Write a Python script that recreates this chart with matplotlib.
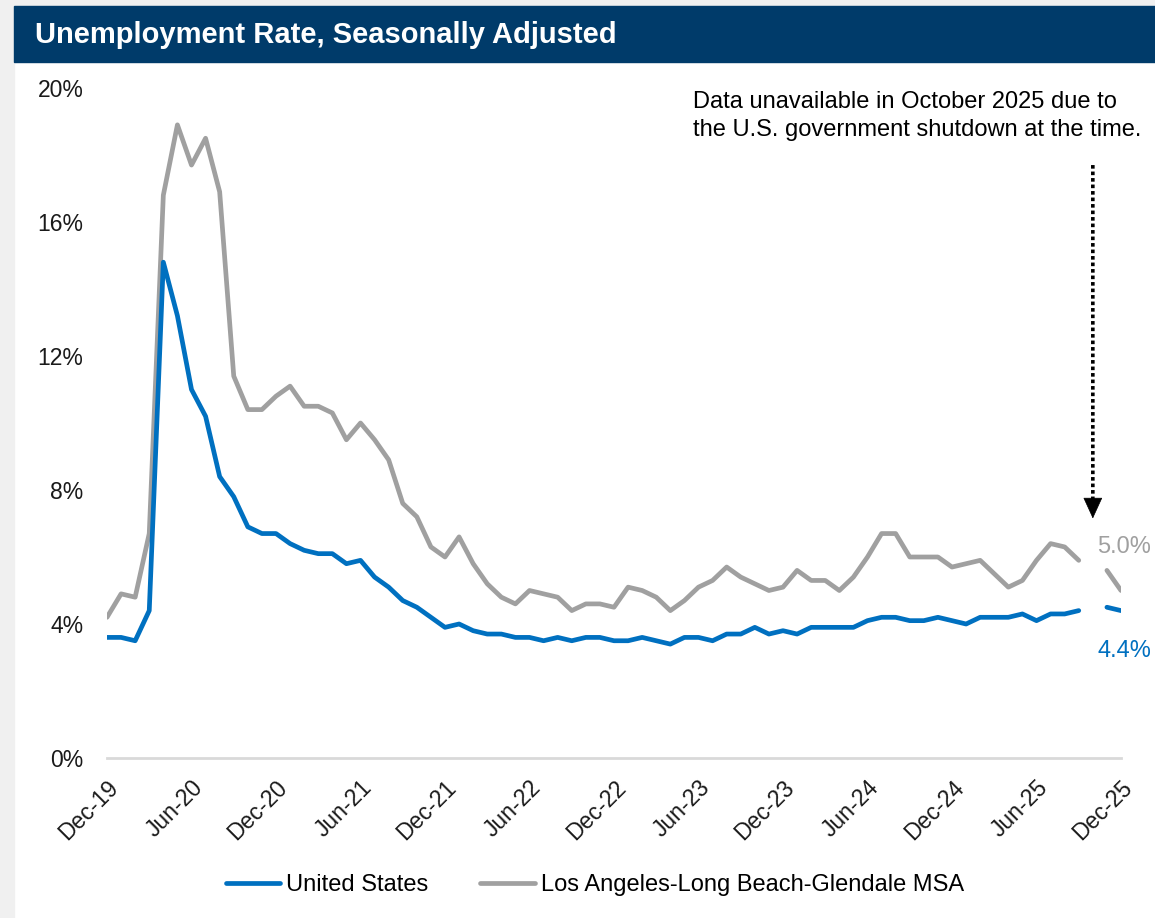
import numpy as np
import matplotlib
matplotlib.use('Agg')
import matplotlib.pyplot as plt
from matplotlib.patches import Rectangle

plt.rcParams['font.family'] = ['Liberation Sans', 'DejaVu Sans']

# monthly, Dec-19 .. Dec-25 (Oct-25 missing -> nan)
months = ['Dec-19', 'Jan-20', 'Feb-20', 'Mar-20', 'Apr-20', 'May-20', 'Jun-20', 'Jul-20', 'Aug-20', 'Sep-20', 'Oct-20', 'Nov-20', 'Dec-20',
          'Jan-21', 'Feb-21', 'Mar-21', 'Apr-21', 'May-21', 'Jun-21', 'Jul-21', 'Aug-21', 'Sep-21', 'Oct-21', 'Nov-21', 'Dec-21',
          'Jan-22', 'Feb-22', 'Mar-22', 'Apr-22', 'May-22', 'Jun-22', 'Jul-22', 'Aug-22', 'Sep-22', 'Oct-22', 'Nov-22', 'Dec-22',
          'Jan-23', 'Feb-23', 'Mar-23', 'Apr-23', 'May-23', 'Jun-23', 'Jul-23', 'Aug-23', 'Sep-23', 'Oct-23', 'Nov-23', 'Dec-23',
          'Jan-24', 'Feb-24', 'Mar-24', 'Apr-24', 'May-24', 'Jun-24', 'Jul-24', 'Aug-24', 'Sep-24', 'Oct-24', 'Nov-24', 'Dec-24',
          'Jan-25', 'Feb-25', 'Mar-25', 'Apr-25', 'May-25', 'Jun-25', 'Jul-25', 'Aug-25', 'Sep-25', 'Oct-25', 'Nov-25', 'Dec-25']

us = [3.6, 3.6, 3.5, 4.4, 14.8, 13.2, 11.0, 10.2, 8.4, 7.8, 6.9, 6.7, 6.7,
      6.4, 6.2, 6.1, 6.1, 5.8, 5.9, 5.4, 5.1, 4.7, 4.5, 4.2, 3.9,
      4.0, 3.8, 3.7, 3.7, 3.6, 3.6, 3.5, 3.6, 3.5, 3.6, 3.6, 3.5,
      3.5, 3.6, 3.5, 3.4, 3.6, 3.6, 3.5, 3.7, 3.7, 3.9, 3.7, 3.8,
      3.7, 3.9, 3.9, 3.9, 3.9, 4.1, 4.2, 4.2, 4.1, 4.1, 4.2, 4.1,
      4.0, 4.2, 4.2, 4.2, 4.3, 4.1, 4.3, 4.3, 4.4, np.nan, 4.5, 4.4]

la = [4.2, 4.9, 4.8, 6.7, 16.8, 18.9, 17.7, 18.5, 16.9, 11.4, 10.4, 10.4, 10.8,
      11.1, 10.5, 10.5, 10.3, 9.5, 10.0, 9.5, 8.9, 7.6, 7.2, 6.3, 6.0,
      6.6, 5.8, 5.2, 4.8, 4.6, 5.0, 4.9, 4.8, 4.4, 4.6, 4.6, 4.5,
      5.1, 5.0, 4.8, 4.4, 4.7, 5.1, 5.3, 5.7, 5.4, 5.2, 5.0, 5.1,
      5.6, 5.3, 5.3, 5.0, 5.4, 6.0, 6.7, 6.7, 6.0, 6.0, 6.0, 5.7,
      5.8, 5.9, 5.5, 5.1, 5.3, 5.9, 6.4, 6.3, 5.9, np.nan, 5.6, 5.0]

tick_labels = ['Dec-19', 'Jun-20', 'Dec-20', 'Jun-21', 'Dec-21', 'Jun-22', 'Dec-22',
               'Jun-23', 'Dec-23', 'Jun-24', 'Dec-24', 'Jun-25', 'Dec-25']
yticks = [0, 4, 8, 12, 16, 20]

BLUE = '#0070C0'
GRAY = '#A0A0A0'
NAVY = '#003B6A'

W, H = 1155, 918
fig = plt.figure(figsize=(W / 100, H / 100), dpi=100)
fig.patch.set_facecolor('white')

# frame: light gray margin + title banner
fig.add_artist(Rectangle((0, 0), 14 / W, 1, transform=fig.transFigure, color='#F0F0F0', zorder=0))
fig.add_artist(Rectangle((0, 1 - 6 / H), 1, 6 / H, transform=fig.transFigure, color='#F0F0F0', zorder=0))
fig.add_artist(Rectangle((14 / W, 1 - 62 / H), 1, 56 / H, transform=fig.transFigure, color=NAVY, zorder=1))
fig.text(35 / W, 1 - 35 / H, 'Unemployment Rate, Seasonally Adjusted', color='white',
         fontsize=21, fontweight='bold', va='center', ha='left')

x = np.arange(len(months))
ax = fig.add_axes([107 / W, (H - 758) / H, (1121 - 107) / W, (758 - 88) / H])
ax.plot(x, us, color=BLUE, lw=3.4, solid_capstyle='round', solid_joinstyle='round', label='United States', zorder=3)
ax.plot(x, la, color=GRAY, lw=3.4, solid_capstyle='round', solid_joinstyle='round',
        label='Los Angeles-Long Beach-Glendale MSA', zorder=2)

ax.set_xlim(0, len(months) - 1)
ax.set_ylim(0, 20)
ax.set_yticks(yticks)
ax.set_yticklabels([f'{v}%' for v in yticks], fontsize=16.5, color='#1a1a1a')
ax.set_xticks([months.index(t) for t in tick_labels])
ax.set_xticklabels(tick_labels, fontsize=16.5, color='#1a1a1a', rotation=45, ha='right', va='top',
                   rotation_mode='anchor')
ax.tick_params(axis='both', length=0)
ax.tick_params(axis='y', pad=17)
ax.tick_params(axis='x', pad=13)
for s in ['top', 'right', 'left']:
    ax.spines[s].set_visible(False)
ax.spines['bottom'].set_color('#D9D9D9')
ax.spines['bottom'].set_linewidth(2)

# end labels
ax.text(70.3, 6.3, f'{la[-1]:.1f}%', color=GRAY, fontsize=17, va='center', ha='left', clip_on=False)
ax.text(70.3, 3.2, f'{us[-1]:.1f}%', color=BLUE, fontsize=17, va='center', ha='left', clip_on=False)

# missing-month note: dotted stem + solid head
gap = months.index('Oct-25')
ax.annotate('', xy=(gap, 7.6), xytext=(gap, 17.7),
            arrowprops=dict(arrowstyle='-', color='black', lw=2.6, linestyle=(0, (1, 0.8)),
                            capstyle='butt', shrinkA=0, shrinkB=0))
ax.annotate('', xy=(gap, 7.15), xytext=(gap, 7.75),
            arrowprops=dict(arrowstyle='-|>,head_length=0.7,head_width=0.32', color='black', lw=0.5,
                            shrinkA=0, shrinkB=0, mutation_scale=20))
fig.text(693 / W, 1 - 91 / H, 'Data unavailable in October 2025 due to\nthe U.S. government shutdown at the time.',
         fontsize=17, color='black', ha='left', va='top', linespacing=1.38)

fig.legend(loc='center', bbox_to_anchor=(0.515, 1 - 885 / H), ncol=2, frameon=False, fontsize=17,
           handlelength=2.3, handletextpad=0.25, columnspacing=2.2)

fig.savefig('out.png', dpi=100)
